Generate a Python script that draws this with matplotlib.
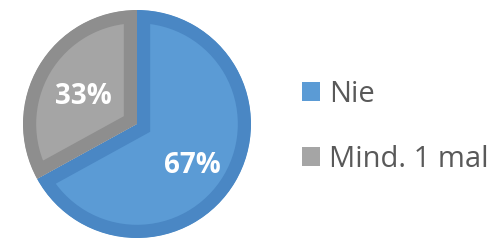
import matplotlib.pyplot as plt
from matplotlib.patches import Patch, Wedge

labels = ['Nie', 'Mind. 1 mal']
values = [67, 33]
fills = ['#5b9bd5', '#a5a5a5']
edges = ['#4a87c4', '#8e8e8e']

plt.rcParams['font.family'] = ['Open Sans', 'DejaVu Sans']

fig = plt.figure(figsize=(4.99, 2.42), dpi=100)
# pie centre ~ (137,124) px, radius ~114 px
ax = fig.add_axes([(137 - 114) / 499, (242 - 124 - 114) / 242, 228 / 499, 228 / 242])

wedges, texts, autotexts = ax.pie(values, colors=fills, startangle=90, counterclock=False,
                                  autopct='%.0f%%', pctdistance=0.55,
                                  textprops=dict(color='white', fontsize=20, fontweight='bold'))
# nudge the percent labels where the original has them
autotexts[0].set_position((0.49, -0.33))
autotexts[1].set_position((-0.47, 0.27))
for t in autotexts:
    t.set_va('center_baseline')

# inner bevel: thick darker edge, clipped to a copy of the wedge
# (pie makes wedges with clip_on=False, so switch it back on)
for w, ec in zip(wedges, edges):
    w.set_edgecolor(ec)
    w.set_linewidth(19)
    clip = Wedge(w.center, w.r, w.theta1, w.theta2, transform=ax.transData)
    w.set_clip_on(True)
    w.set_clip_path(clip)
ax.set_xlim(-1, 1)
ax.set_ylim(-1, 1)
ax.set_aspect('equal')
ax.axis('off')

handles = [Patch(facecolor=c, edgecolor='none') for c in fills]
fig.legend(handles, labels, loc='center left', bbox_to_anchor=(302 / 499, 115 / 242),
           frameon=False, fontsize=21, handlelength=0.62, handleheight=0.62,
           handletextpad=0.31, labelspacing=1.23, borderpad=0, borderaxespad=0,
           labelcolor='#595959')

fig.savefig('out.png', dpi=100)
